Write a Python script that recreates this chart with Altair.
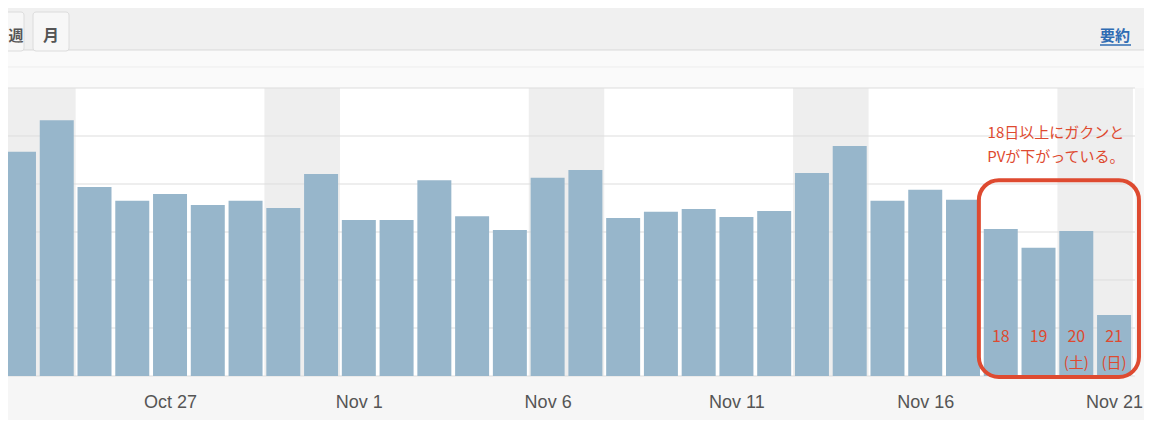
import altair as alt
import pandas as pd

# ---- data ----
dates = ["Oct 23", "Oct 24", "Oct 25", "Oct 26", "Oct 27", "Oct 28", "Oct 29", "Oct 30",
         "Oct 31", "Nov 1", "Nov 2", "Nov 3", "Nov 4", "Nov 5", "Nov 6", "Nov 7", "Nov 8",
         "Nov 9", "Nov 10", "Nov 11", "Nov 12", "Nov 13", "Nov 14", "Nov 15", "Nov 16",
         "Nov 17", "Nov 18", "Nov 19", "Nov 20", "Nov 21"]
pv = [467, 533, 394, 365, 379, 356, 365, 350, 421, 325, 325, 408, 333, 304, 413,
      429, 329, 342, 348, 331, 344, 423, 479, 365, 388, 367, 306, 267, 302, 127]
weekend_start_idx = [0, 7, 14, 21, 28]
grid_values = [0, 100, 200, 300, 400, 500, 600]
tick_idx = [4, 9, 14, 19, 24, 29]
tick_labels = ["Oct 27", "Nov 1", "Nov 6", "Nov 11", "Nov 16", "Nov 21"]
day_marks = ["18", "19", "20", "21"]
day_mark_idx = [26, 27, 28, 29]
day_mark_y = [81, 81, 81, 81]
weekday_marks = ["(土)", "(日)"]
weekday_idx = [28, 29]
weekday_y = [27, 27]
note_lines = ["18日以上にガクンと", "PVが下がっている。"]
note_idx = [27.46, 27.46]
note_y = [506, 456]
highlight_x = [25.42, 29.66]
highlight_y = [-2, 408]

BAR = "#97b6cb"
RED = "#de4a30"
JP = "Noto Sans CJK JP"

xscale = alt.Scale(domain=[-0.291, 29.555], nice=False, zero=False)
yscale = alt.Scale(domain=[0, 600], nice=False, zero=False)

label_map = "{" + ",".join(f"'{i}':'{l}'" for i, l in zip(tick_idx, tick_labels)) + "}"
xaxis = alt.Axis(values=tick_idx, labelExpr=f"{label_map}[datum.value + '']",
                 title=None, grid=False, domain=False, ticks=False,
                 labelFont="Liberation Sans", labelFontSize=18,
                 labelColor="#555555", labelPadding=17,
                 labelFlush=False, labelOverlap=False, labelBound=False)

bars_df = pd.DataFrame({"idx": list(range(len(pv))), "pv": pv, "date": dates})
bars_df["x0"] = bars_df["idx"] - 0.45
bars_df["x1"] = bars_df["idx"] + 0.45

wk_df = pd.DataFrame({"s": weekend_start_idx})
wk_df["x0"] = wk_df["s"] - 0.5
wk_df["x1"] = wk_df["s"] + 1.5
wk_df["y0"] = 0
wk_df["y1"] = 600

grid_df = pd.DataFrame({"g": grid_values})

one = pd.DataFrame({"a": [0]})

# header decorations (page chrome)
header_bg = alt.Chart(one).mark_rect(color="#f0f0f0").encode(
    x=alt.value(-10), x2=alt.value(1140), y=alt.value(-80), y2=alt.value(-38))
sub_bg = alt.Chart(one).mark_rect(color="#fafafa").encode(
    x=alt.value(-10), x2=alt.value(1140), y=alt.value(-38), y2=alt.value(0))
line1 = alt.Chart(one).mark_rule(color="#d9d9d9", strokeWidth=1).encode(
    x=alt.value(-10), x2=alt.value(1140), y=alt.value(-38))
line2 = alt.Chart(one).mark_rule(color="#ededed", strokeWidth=1).encode(
    x=alt.value(-10), x2=alt.value(1140), y=alt.value(-21))
tab1 = alt.Chart(one).mark_rect(fill="#f7f7f7", stroke="#dcdcdc", cornerRadius=3).encode(
    x=alt.value(-30), x2=alt.value(16), y=alt.value(-76), y2=alt.value(-37))
tab2 = alt.Chart(one).mark_rect(fill="#f7f7f7", stroke="#dcdcdc", cornerRadius=3).encode(
    x=alt.value(25), x2=alt.value(61), y=alt.value(-76), y2=alt.value(-37))
tab1_t = alt.Chart(one).mark_text(text="週", font=JP, fontSize=15, fontWeight="bold",
                                  color="#555555", baseline="middle").encode(
    x=alt.value(8), y=alt.value(-52))
tab2_t = alt.Chart(one).mark_text(text="月", font=JP, fontSize=16, fontWeight="bold",
                                  color="#555555", baseline="middle").encode(
    x=alt.value(43), y=alt.value(-52))
summary_t = alt.Chart(one).mark_text(text="要約", font=JP, fontSize=15, fontWeight="bold",
                                     color="#2f6cb3", baseline="middle").encode(
    x=alt.value(1107), y=alt.value(-52))
summary_u = alt.Chart(one).mark_rule(color="#2f6cb3", strokeWidth=1.5).encode(
    x=alt.value(1092), x2=alt.value(1123), y=alt.value(-43))

bands = alt.Chart(wk_df).mark_rect(color="#eeeeee").encode(
    x=alt.X("x0:Q", scale=xscale, axis=xaxis), x2="x1:Q",
    y=alt.Y("y0:Q", scale=yscale, axis=None), y2="y1:Q")

grid = alt.Chart(grid_df).mark_rule(color="#dddddd", strokeWidth=1).encode(
    y=alt.Y("g:Q", scale=yscale, axis=None))

bars = alt.Chart(bars_df).mark_rect(color=BAR).encode(
    x=alt.X("x0:Q", scale=xscale, axis=xaxis), x2="x1:Q",
    y=alt.Y("pv:Q", scale=yscale, axis=None), y2=alt.datum(0))

hl_df = pd.DataFrame({"x0": [highlight_x[0]], "x1": [highlight_x[1]],
                      "y0": [highlight_y[0]], "y1": [highlight_y[1]]})
highlight = alt.Chart(hl_df).mark_rect(fill="transparent", stroke=RED, strokeWidth=4,
                                       cornerRadius=20).encode(
    x=alt.X("x0:Q", scale=xscale, axis=xaxis), x2="x1:Q",
    y=alt.Y("y0:Q", scale=yscale, axis=None), y2="y1:Q")

dm_df = pd.DataFrame({"idx": day_mark_idx, "t": day_marks, "y": day_mark_y})
day_text = alt.Chart(dm_df).mark_text(font=JP, fontSize=16, color=RED, baseline="middle").encode(
    x=alt.X("idx:Q", scale=xscale, axis=xaxis), y=alt.Y("y:Q", scale=yscale, axis=None), text="t:N")

wd_df = pd.DataFrame({"idx": weekday_idx, "t": weekday_marks, "y": weekday_y})
wd_text = alt.Chart(wd_df).mark_text(font=JP, fontSize=15, color=RED, baseline="middle").encode(
    x=alt.X("idx:Q", scale=xscale, axis=xaxis), y=alt.Y("y:Q", scale=yscale, axis=None), text="t:N")

nt_df = pd.DataFrame({"idx": note_idx, "t": note_lines, "y": note_y})
note_text = alt.Chart(nt_df).mark_text(font=JP, fontSize=15, color=RED, baseline="middle").encode(
    x=alt.X("idx:Q", scale=xscale, axis=xaxis), y=alt.Y("y:Q", scale=yscale, axis=None), text="t:N")

chart = alt.layer(
    header_bg, sub_bg, line1, line2, tab1, tab2, tab1_t, tab2_t, summary_t, summary_u,
    bands, grid, bars, highlight, day_text, wd_text, note_text
).properties(
    width=1127, height=288,
    autosize="none",
    padding={"left": 0, "top": 80, "right": 9, "bottom": 44},
    background="#f6f6f6",
).configure_view(fill="white", stroke=None)

chart.save("out.html", embed_options={"renderer": "svg", "actions": False})
